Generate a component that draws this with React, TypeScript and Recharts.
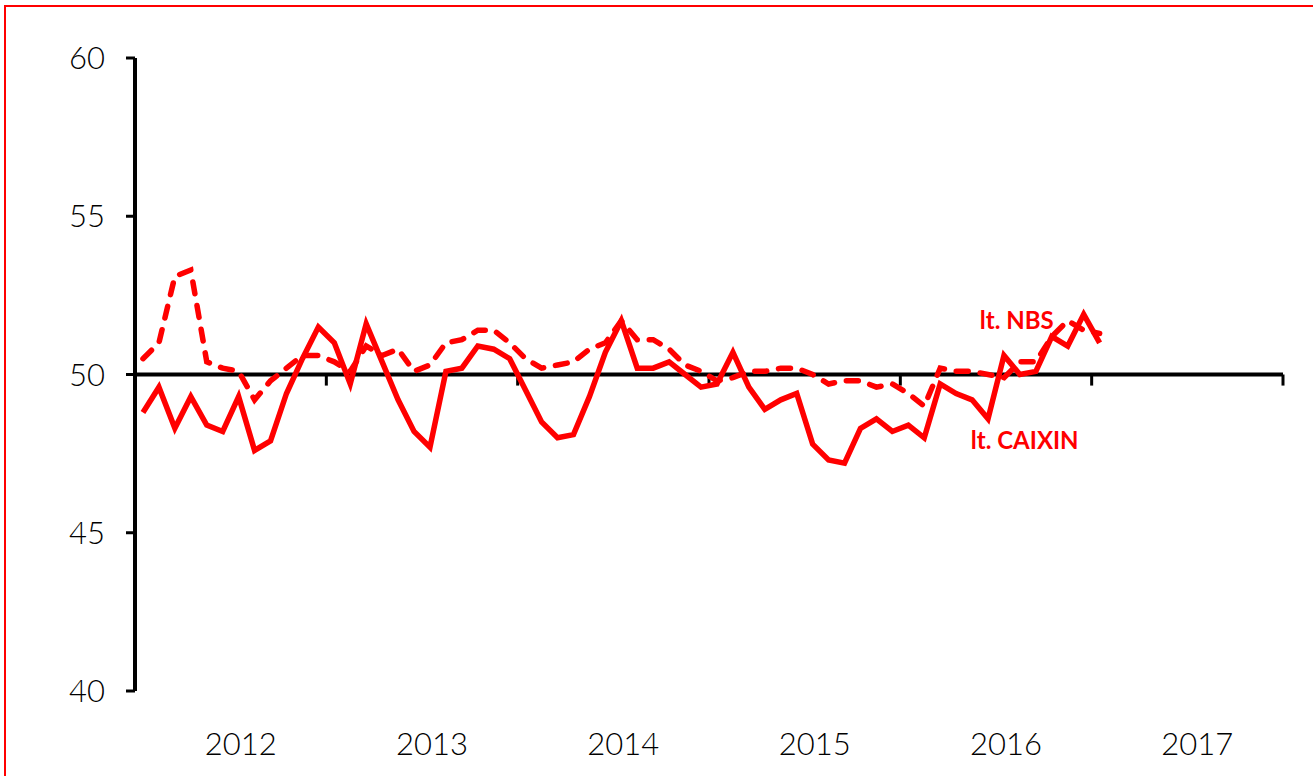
import { LineChart, Line, XAxis, YAxis, ReferenceLine, ReferenceDot } from "recharts";

const years = ["2012", "2013", "2014", "2015", "2016", "2017"];

// monthly PMI, Jan 2012 .. Jan 2017
const caixin = [
  48.8, 49.6, 48.3, 49.3, 48.4, 48.2, 49.3, 47.6, 47.9, 49.4, 50.5, 51.5,
  51.0, 49.7, 51.6, 50.4, 49.2, 48.2, 47.7, 50.1, 50.2, 50.9, 50.8, 50.5,
  49.5, 48.5, 48.0, 48.1, 49.3, 50.7, 51.7, 50.2, 50.2, 50.4, 50.0, 49.6,
  49.7, 50.7, 49.6, 48.9, 49.2, 49.4, 47.8, 47.3, 47.2, 48.3, 48.6, 48.2,
  48.4, 48.0, 49.7, 49.4, 49.2, 48.6, 50.6, 50.0, 50.1, 51.2, 50.9, 51.9,
  51.0,
];

const nbs = [
  50.5, 51.0, 53.1, 53.3, 50.4, 50.2, 50.1, 49.2, 49.8, 50.2, 50.6, 50.6,
  50.4, 50.1, 50.9, 50.6, 50.8, 50.1, 50.3, 51.0, 51.1, 51.4, 51.4, 51.0,
  50.5, 50.2, 50.3, 50.4, 50.8, 51.0, 51.7, 51.1, 51.1, 50.8, 50.3, 50.1,
  49.8, 49.9, 50.1, 50.1, 50.2, 50.2, 50.0, 49.7, 49.8, 49.8, 49.6, 49.7,
  49.4, 49.0, 50.2, 50.1, 50.1, 50.0, 49.9, 50.4, 50.4, 51.2, 51.7, 51.4,
  51.3,
];

const yTicks = [40, 45, 50, 55, 60];

const RED = "#ff0000";
const FONT = "Lato, 'Open Sans', sans-serif";

// each month sits in the middle of its slot on the month axis
const data = caixin.map((v, i) => ({ t: i + 0.5, caixin: v, nbs: nbs[i] }));

const totalMonths = years.length * 12;
const yearMid = years.map((_, i) => i * 12 + 6);
const yearEdges = years.map((_, i) => (i + 1) * 12);

export default function App() {
  return (
    <div
      style={{
        position: "fixed",
        left: 0,
        top: 0,
        width: 1313,
        height: 776,
        overflow: "hidden",
        background: "#fff",
      }}
    >
      <div
        style={{
          position: "absolute",
          left: 4,
          top: 5,
          width: 2000,
          height: 2000,
          borderTop: `2px solid ${RED}`,
          borderLeft: `2px solid ${RED}`,
        }}
      />
      <div style={{ position: "absolute", left: 0, top: 0 }}>
        <LineChart
          width={1313}
          height={776}
          data={data}
          margin={{ top: 58, right: 30, bottom: 25, left: 35 }}
        >
          <XAxis
            type="number"
            dataKey="t"
            domain={[0, totalMonths]}
            ticks={yearMid}
            tickFormatter={(v: number) => years[Math.floor(v / 12)]}
            axisLine={false}
            tickLine={false}
            tickSize={0}
            tickMargin={42}
            height={60}
            tick={{ fill: "#000", fontSize: 31, fontFamily: FONT, fontWeight: 300, dx: 10 }}
          />
          <YAxis
            type="number"
            domain={[40, 60]}
            ticks={yTicks}
            width={100}
            axisLine={{ stroke: "#000", strokeWidth: 4 }}
            tickLine={{ stroke: "#000", strokeWidth: 3 }}
            tickSize={9}
            tickMargin={21}
            tick={{ fill: "#000", fontSize: 31, fontFamily: FONT, fontWeight: 300 }}
          />
          <ReferenceLine y={50} stroke="#000" strokeWidth={4} />
          {yearEdges.map((e) => (
            <ReferenceLine
              key={e}
              segment={[
                { x: e, y: 50 },
                { x: e, y: 49.65 },
              ]}
              stroke="#000"
              strokeWidth={3}
            />
          ))}
          <Line
            type="linear"
            dataKey="nbs"
            stroke={RED}
            strokeWidth={5.5}
            strokeDasharray="12 12"
            strokeLinecap="round"
            dot={false}
            isAnimationActive={false}
          />
          <Line
            type="linear"
            dataKey="caixin"
            stroke={RED}
            strokeWidth={5.5}
            strokeLinejoin="miter"
            dot={false}
            isAnimationActive={false}
          />
          <ReferenceDot
            x={55.3}
            y={51.72}
            r={0}
            fill="none"
            stroke="none"
            label={{ value: "lt. NBS", position: "center", fill: RED, fontSize: 24, fontWeight: 700, fontFamily: FONT }}
          />
          <ReferenceDot
            x={55.8}
            y={47.92}
            r={0}
            fill="none"
            stroke="none"
            label={{ value: "lt. CAIXIN", position: "center", fill: RED, fontSize: 24, fontWeight: 700, fontFamily: FONT }}
          />
        </LineChart>
      </div>
    </div>
  );
}
